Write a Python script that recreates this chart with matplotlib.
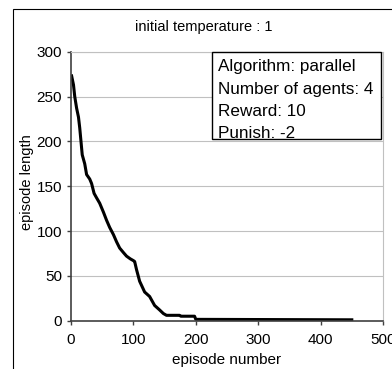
import matplotlib.pyplot as plt
from matplotlib.patches import Rectangle

plt.rcParams['font.family'] = ['Liberation Sans', 'DejaVu Sans']

# values
episode = [1, 4, 6, 9, 12, 14, 16, 18, 22, 25, 30, 33, 37, 41, 46, 52, 57, 62,
           68, 73, 78, 84, 89, 95, 100, 102, 105, 110, 114, 118, 126, 134, 142,
           148, 153, 174, 176, 198, 200, 450]
length = [273, 263, 250, 237, 227, 215, 200, 185, 175, 163, 158, 153, 142, 137,
          131, 121, 112, 104, 96, 88, 81, 76, 72, 69, 67, 66, 57, 44, 38, 32,
          27, 17, 12, 8, 6, 6, 5, 5, 1.5, 1]

x_ticks = [0, 100, 200, 300, 400, 500]
y_ticks = [0, 50, 100, 150, 200, 250, 300]
info_lines = ["Algorithm: parallel", "Number of agents: 4", "Reward: 10", "Punish: -2"]

fig = plt.figure(figsize=(3.92, 3.69), dpi=100)
ax = fig.add_axes([71 / 392, 48.3 / 369, 312 / 392, 269 / 369])

ax.plot(episode, length, color='black', linewidth=2.2, solid_joinstyle='round')

ax.set_xlim(0, 500)
ax.set_ylim(0, 300)
ax.set_xticks(x_ticks)
ax.set_yticks(y_ticks)
ax.yaxis.grid(True, color='#c0c0c0', linewidth=0.8)
ax.set_axisbelow(True)

for side in ['left', 'bottom']:
    ax.spines[side].set_color('#404040')
    ax.spines[side].set_linewidth(1.2)
for side in ['top', 'right']:
    ax.spines[side].set_color('#c0c0c0')
    ax.spines[side].set_linewidth(0.8)

ax.tick_params(axis='both', direction='out', length=3, width=1, color='#404040',
               labelsize=11)
ax.tick_params(axis='x', pad=6)
ax.tick_params(axis='y', pad=3.5)

ax.set_xlabel("episode number", fontsize=11)
ax.xaxis.set_label_coords(0.5, -0.161)
ax.xaxis.label.set_va('baseline')
ax.set_ylabel("episode length", fontsize=10.5)
ax.yaxis.set_label_coords(-0.118, 0.517)

fig.text(204 / 392, 1 - 31 / 369, "initial temperature : 1", fontsize=10.5,
         ha='center', va='baseline')

# info box
ax.add_patch(Rectangle((0.451, 0.675), 0.541, 0.323, transform=ax.transAxes,
                       facecolor='white', edgecolor='black', linewidth=1,
                       clip_on=False, zorder=5))
for i, line in enumerate(info_lines):
    ax.text(0.472, 0.928 - i * 0.0834, line, transform=ax.transAxes,
            fontsize=12.3, va='baseline', ha='left', zorder=6)

# outer chart frame (cut off at right and bottom)
fig.patches.append(Rectangle((12.5 / 392, -0.1), 2, 1 - 9 / 369 + 0.1,
                             transform=fig.transFigure, fill=False,
                             edgecolor='black', linewidth=0.8))

fig.savefig('out.png', dpi=100)
